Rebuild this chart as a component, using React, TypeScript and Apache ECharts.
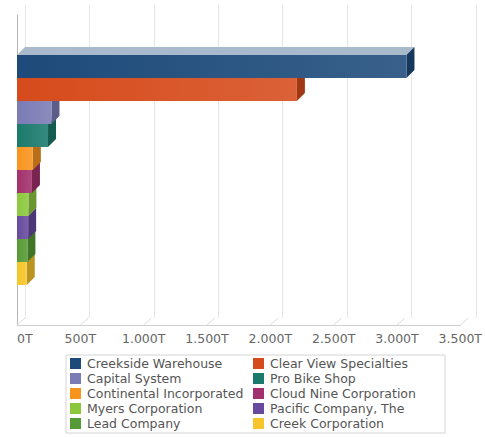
import React, { useEffect, useRef } from "react";
import * as echarts from "echarts";

const companies = [
  "Creekside Warehouse",
  "Clear View Specialties",
  "Capital System",
  "Pro Bike Shop",
  "Continental Incorporated",
  "Cloud Nine Corporation",
  "Myers Corporation",
  "Pacific Company, The",
  "Lead Company",
  "Creek Corporation",
];
const revenue = [3075, 2210, 272, 245, 125, 118, 90, 88, 82, 77];
const axisTicks = [0, 500, 1000, 1500, 2000, 2500, 3000, 3500];
const legendLeft = [companies[0], companies[2], companies[4], companies[6], companies[8]];
const legendRight = [companies[1], companies[3], companies[5], companies[7], companies[9]];

const palette = [
  "#1d4a7a",
  "#d64b1c",
  "#7b7bb5",
  "#1b7a6c",
  "#f7941e",
  "#a2306c",
  "#8cc83e",
  "#674a9e",
  "#559a34",
  "#f6c52a",
];

function mix(hex: string, target: number, t: number): string {
  const n = parseInt(hex.slice(1), 16);
  const r = (n >> 16) & 255, g = (n >> 8) & 255, b = n & 255;
  const f = (c: number) => Math.round(c + (target - c) * t);
  return "rgb(" + f(r) + "," + f(g) + "," + f(b) + ")";
}

const fmt = (v: number) =>
  String(v).replace(/\B(?=(\d{3})+(?!\d))/g, ".") + "T";

const FONT = "DejaVu Sans";
const DEPTH = 8;

export default function App() {
  const ref = useRef<HTMLDivElement>(null);
  useEffect(() => {
    if (!ref.current) return;
    const chart = echarts.init(ref.current, undefined, { renderer: "svg" });

    const barSeries = companies.map((name, i) => ({
      type: "custom",
      name,
      xAxisIndex: 0,
      yAxisIndex: 0,
      z: 30 - i,
      itemStyle: { color: palette[i] },
      encode: { x: 0, y: 1 },
      data: [[revenue[i], 0]],
      renderItem: (params: any, api: any) => {
        const cs = params.coordSys;
        const x0 = api.coord([0, 0])[0];
        const x1 = api.coord([api.value(0), 0])[0];
        const yc = cs.y + cs.height / 2;
        const h = (cs.height * 0.742) / companies.length;
        const top = yc - (companies.length / 2) * h + i * h;
        const base = palette[i];
        return {
          type: "group",
          children: [
            {
              type: "polygon",
              shape: {
                points: [
                  [x0, top],
                  [x0 + DEPTH, top - DEPTH],
                  [x1 + DEPTH, top - DEPTH],
                  [x1, top],
                ],
              },
              style: { fill: mix(base, 255, 0.62) },
            },
            {
              type: "polygon",
              shape: {
                points: [
                  [x1, top],
                  [x1 + DEPTH, top - DEPTH],
                  [x1 + DEPTH, top + h - DEPTH],
                  [x1, top + h],
                ],
              },
              style: { fill: mix(base, 0, 0.25) },
            },
            {
              type: "rect",
              shape: { x: x0, y: top, width: x1 - x0, height: h },
              style: {
                fill: new echarts.graphic.LinearGradient(0, 0, 1, 0, [
                  { offset: 0, color: base },
                  { offset: 1, color: mix(base, 255, 0.12) },
                ]),
              },
            },
          ],
        };
      },
    }));

    const floorSeries = {
      type: "custom",
      xAxisIndex: 0,
      yAxisIndex: 0,
      z: 1,
      silent: true,
      encode: { x: 0, y: 1 },
      data: axisTicks.map((v) => [v, 0]),
      renderItem: (params: any, api: any) => {
        const cs = params.coordSys;
        const x = api.coord([api.value(0), 0])[0];
        const yb = cs.y + cs.height;
        return {
          type: "line",
          shape: { x1: x, y1: yb, x2: x + DEPTH, y2: yb - 7 },
          style: { stroke: "#dcdcdc", lineWidth: 1 },
        };
      },
    };

    const legendCommon = {
      orient: "vertical",
      top: 357,
      height: 120,
      padding: 0,
      itemWidth: 11,
      itemHeight: 11,
      itemGap: 2,
      icon: "rect",
      selectedMode: false,
      textStyle: {
        fontFamily: FONT,
        fontSize: 12.5,
        color: "#555",
        padding: [0, 0, 0, 1],
      },
    };

    chart.setOption({
      animation: false,
      backgroundColor: "#fff",
      grid: [
        { left: 17, right: 17, top: 15, bottom: 112 },
        { left: 25, right: 9, top: 5, bottom: 119 },
      ],
      xAxis: [
        {
          type: "value",
          gridIndex: 0,
          min: 0,
          max: 3500,
          interval: 500,
          splitLine: { show: false },
          axisTick: { show: false },
          axisLine: { show: true, lineStyle: { color: "#cfcfcf" } },
          axisLabel: {
            formatter: fmt,
            fontFamily: FONT,
            fontSize: 12.5,
            color: "#666",
            margin: 7,
            alignMinLabel: "left",
          },
        },
        {
          type: "value",
          gridIndex: 1,
          min: 0,
          max: 3500,
          interval: 500,
          splitLine: { show: true, lineStyle: { color: "#e6e6e6" } },
          axisTick: { show: false },
          axisLine: { show: false },
          axisLabel: { show: false },
        },
      ],
      yAxis: [
        {
          type: "category",
          gridIndex: 0,
          data: [""],
          axisTick: { show: false },
          axisLabel: { show: false },
          axisLine: { show: true, lineStyle: { color: "#b5b5b5" } },
        },
        {
          type: "category",
          gridIndex: 1,
          data: [""],
          axisTick: { show: false },
          axisLabel: { show: false },
          axisLine: { show: true, lineStyle: { color: "#e6e6e6" } },
        },
      ],
      legend: [
        { ...legendCommon, left: 70, data: legendLeft },
        { ...legendCommon, left: 253, data: legendRight },
      ],
      graphic: [
        {
          type: "rect",
          shape: { x: 66, y: 355, width: 379, height: 78 },
          style: { fill: "none", stroke: "#d4d4d4", lineWidth: 1 },
          z: 0,
        },
      ],
      series: [...barSeries, floorSeries],
    });
    return () => chart.dispose();
  }, []);
  return (
    <div
      ref={ref}
      style={{ position: "fixed", left: 0, top: 0, width: 485, height: 437 }}
    />
  );
}
